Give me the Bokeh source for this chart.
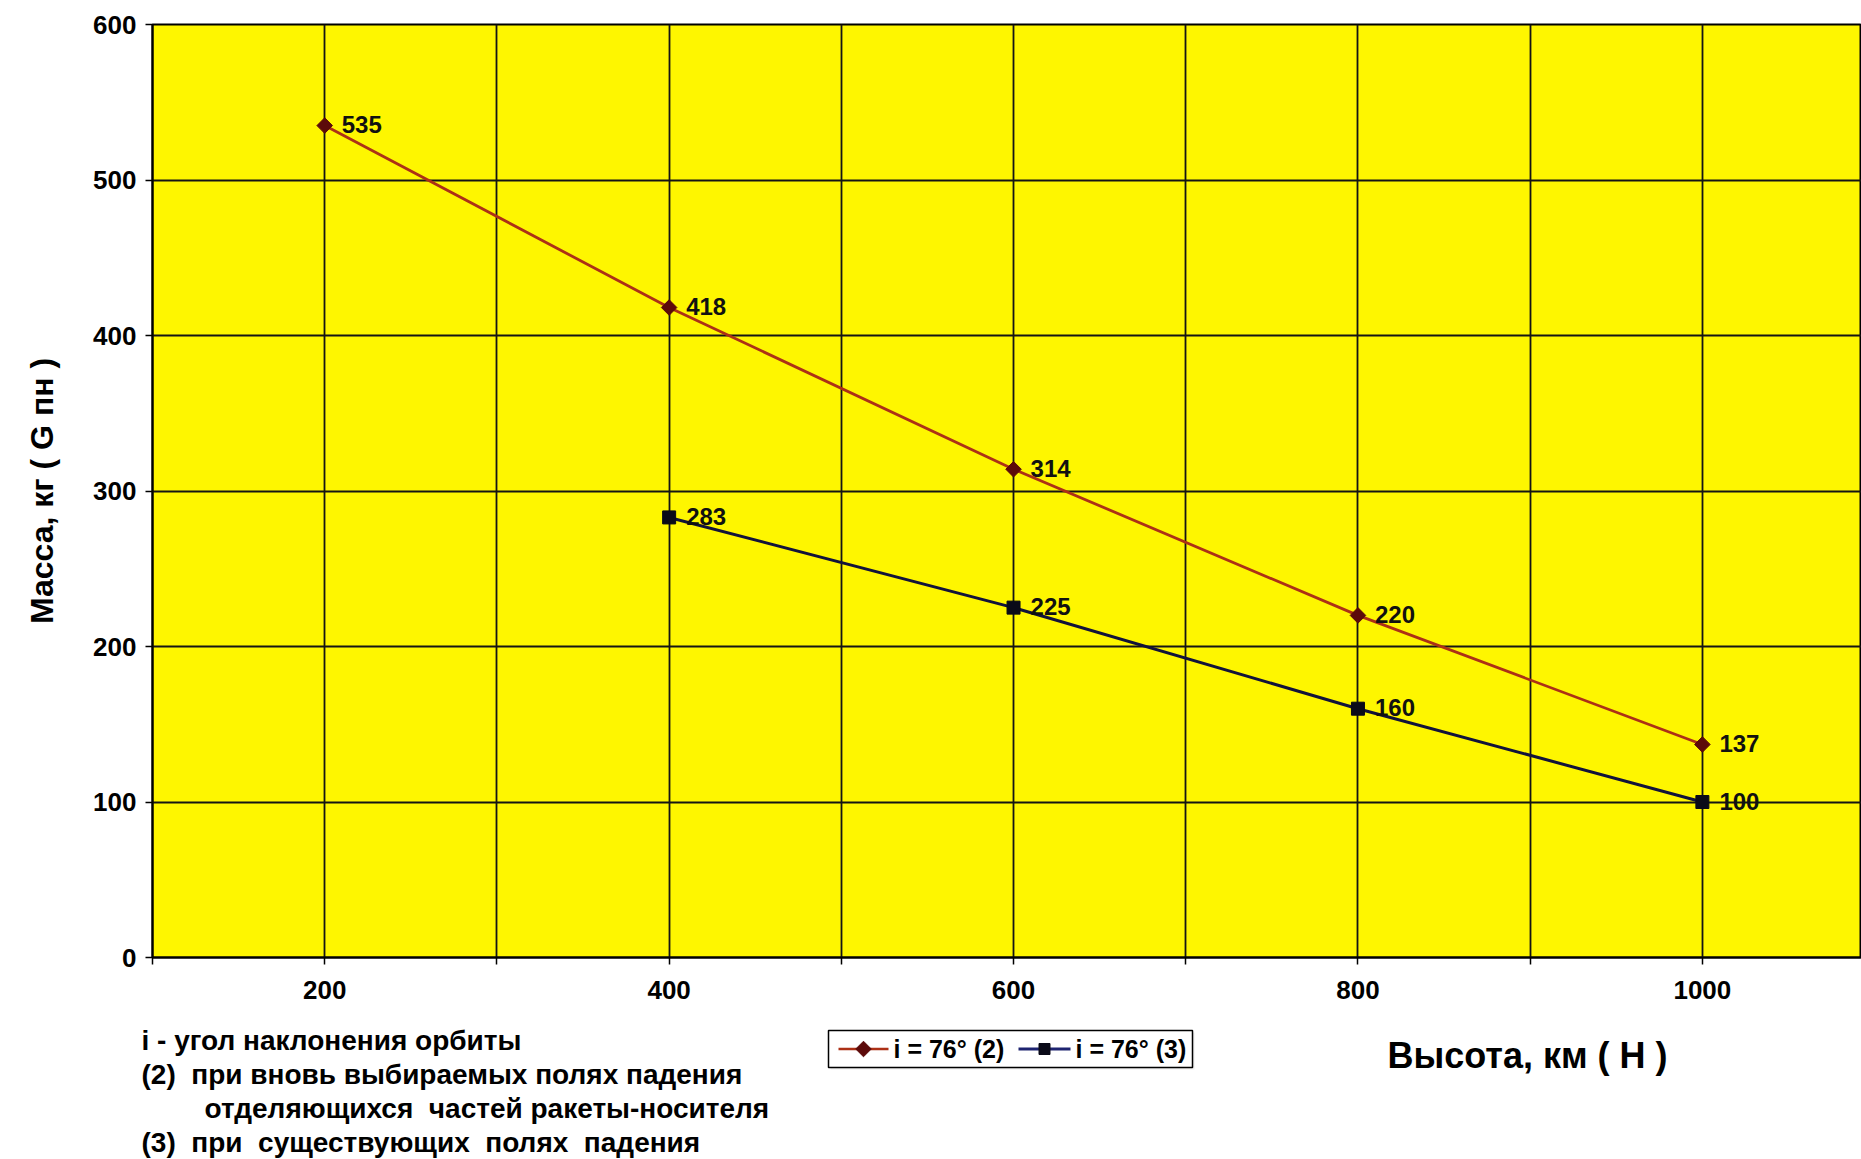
from math import pi

from bokeh.core.properties import value
from bokeh.embed import file_html
from bokeh.layouts import column
from bokeh.models import ColumnDataSource, FixedTicker, LabelSet, Range1d
from bokeh.plotting import figure
from bokeh.resources import INLINE

# Payload mass versus orbit altitude, i = 76 deg
altitude_new_fields = [200, 400, 600, 800, 1000]
mass_new_fields = [535, 418, 314, 220, 137]

altitude_existing_fields = [400, 600, 800, 1000]
mass_existing_fields = [283, 225, 160, 100]

x_ticks = [100, 200, 300, 400, 500, 600, 700, 800, 900, 1000]
x_tick_labels = {100: "", 300: "", 500: "", 700: "", 900: ""}
y_ticks = [0, 100, 200, 300, 400, 500, 600]

series_labels = ["i = 76° (2)", "i = 76° (3)"]
y_title = "Масса, кг ( G пн )"
x_title = "Высота, км ( Н )"
GAP = "\u00a0 "  # a wider gap that SVG text keeps
notes = [
    "i - угол наклонения орбиты",
    "(2)" + GAP + "при вновь выбираемых полях падения",
    "отделяющихся" + GAP + "частей ракеты-носителя",
    "(3)" + GAP + "при" + GAP + "существующих" + GAP + "полях" + GAP + "падения",
]

FONT = "Liberation Sans"
RED_LINE = "#AC3016"
RED_MARK = "#5C0A0A"
DARK_LINE = "#12123A"
DARK_MARK = "#0A0A18"

W = 1861
TOP_H = 1010
BOTTOM_H = 1159 - TOP_H

# ---- main chart ----
p = figure(
    width=W, height=TOP_H,
    output_backend="svg", toolbar_location=None,
    x_range=Range1d(100, 1092.4), y_range=Range1d(0, 600),
    min_border_left=152, min_border_right=0,
    min_border_top=24, min_border_bottom=53,
)
p.frame_align = False
p.background_fill_color = "#FEF600"
p.border_fill_color = "white"
p.outline_line_color = "black"
p.outline_line_width = 2

p.xaxis.ticker = FixedTicker(ticks=x_ticks)
p.yaxis.ticker = FixedTicker(ticks=y_ticks)
p.xgrid.ticker = FixedTicker(ticks=x_ticks)
p.ygrid.ticker = FixedTicker(ticks=y_ticks)
p.grid.grid_line_color = "#141414"
p.grid.grid_line_width = 1.8
p.grid.grid_line_alpha = 1.0

p.xaxis.major_label_overrides = x_tick_labels
for ax in (p.xaxis[0], p.yaxis[0]):
    ax.axis_line_color = "black"
    ax.axis_line_width = 2
    ax.major_tick_line_color = "black"
    ax.major_tick_line_width = 1.5
    ax.major_tick_in = 0
    ax.major_tick_out = 7
    ax.minor_tick_line_color = None
    ax.major_label_text_font = FONT
    ax.major_label_text_font_style = "bold"
    ax.major_label_text_font_size = "26px"
    ax.major_label_text_color = "black"
p.xaxis.major_label_standoff = 16
p.yaxis.major_label_standoff = 9

p.yaxis.axis_label = y_title
p.yaxis.axis_label_text_font = FONT
p.yaxis.axis_label_text_font_style = "bold"
p.yaxis.axis_label_text_font_size = "32px"
p.yaxis.axis_label_text_color = "black"
p.yaxis.axis_label_standoff = 30

src2 = ColumnDataSource(dict(x=altitude_new_fields, y=mass_new_fields,
                             t=[str(v) for v in mass_new_fields]))
src3 = ColumnDataSource(dict(x=altitude_existing_fields, y=mass_existing_fields,
                             t=[str(v) for v in mass_existing_fields]))

p.line("x", "y", source=src2, line_color=RED_LINE, line_width=2.8)
p.scatter("x", "y", source=src2, marker="square", angle=pi / 4, size=11,
          fill_color=RED_MARK, line_color=RED_MARK)
p.line("x", "y", source=src3, line_color=DARK_LINE, line_width=3)
p.scatter("x", "y", source=src3, marker="square", size=13,
          fill_color=DARK_MARK, line_color=DARK_MARK)

for src in (src2, src3):
    p.add_layout(LabelSet(
        x="x", y="y", text="t", source=src,
        x_offset=17, y_offset=1,
        text_font=value(FONT), text_font_style="bold",
        text_font_size="24px", text_color="#111111",
        text_baseline="middle", text_align="left",
    ))

# ---- strip under the chart: legend, x title, notes (pixel coordinates) ----
q = figure(
    width=W, height=BOTTOM_H,
    output_backend="svg", toolbar_location=None,
    x_range=Range1d(0, W), y_range=Range1d(1159, TOP_H),
    x_axis_type=None, y_axis_type=None,
    min_border_left=0, min_border_right=0,
    min_border_top=0, min_border_bottom=0,
)
q.frame_align = False
q.grid.visible = False
q.outline_line_color = None
q.background_fill_color = "white"
q.border_fill_color = "white"

# legend box
q.quad(left=[830], right=[1194], top=[1032], bottom=[1069],
       fill_color="#EDEDED", line_color=None)
q.quad(left=[828], right=[1192], top=[1030], bottom=[1067],
       fill_color="white", line_color="black", line_width=1.5)
leg_y = 1048.5
q.line([838, 888], [leg_y, leg_y], line_color=RED_LINE, line_width=2.5)
q.scatter([863], [leg_y], marker="square", angle=pi / 4, size=11,
          fill_color=RED_MARK, line_color=RED_MARK)
q.line([1018, 1070], [leg_y, leg_y], line_color="#1E2470", line_width=3)
q.scatter([1044], [leg_y], marker="square", size=11,
          fill_color=DARK_MARK, line_color=DARK_MARK)
q.text(x=[893, 1075], y=[leg_y, leg_y], text=series_labels,
       text_font=value(FONT), text_font_style="bold", text_font_size="25px",
       text_color="black", text_align="left", text_baseline="middle")

# x axis title
q.text(x=[1527], y=[1055], text=[x_title],
       text_font=value(FONT), text_font_style="bold", text_font_size="36px",
       text_color="black", text_align="center", text_baseline="middle")

# notes
q.text(x=[141, 141, 204, 141], y=[1040, 1074, 1108, 1142], text=notes,
       text_font=value(FONT), text_font_style="bold", text_font_size="28px",
       text_color="black", text_align="left", text_baseline="middle")

layout = column(p, q, spacing=0)
open("out.html", "w").write(file_html(layout, INLINE))
